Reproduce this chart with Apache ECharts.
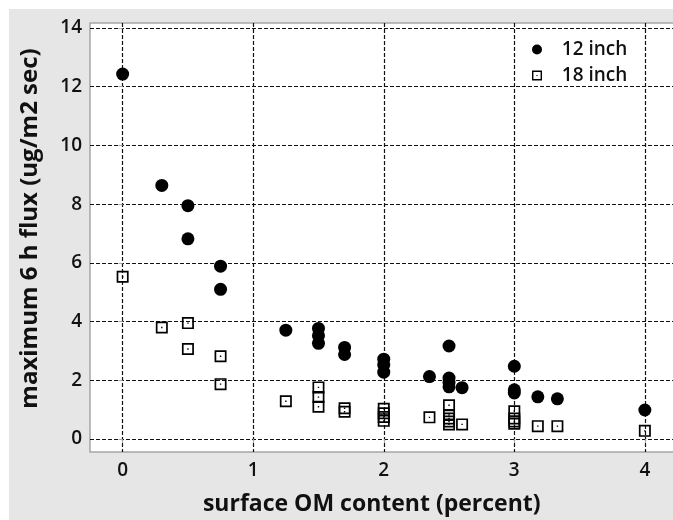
<!DOCTYPE html>
<html lang="en">
<head>
    <meta charset="UTF-8">
    <title>flux vs OM</title>
    <script src="https://cdn.jsdelivr.net/npm/echarts@6.0.0/dist/echarts.min.js"></script>
    <style>
        body { margin: 0; background: #fff; }
        #main { position: absolute; left: 9px; top: 9px; width: 664px; height: 511px; }
    </style>
</head>
<body>
    <div id="main"></div>
    <script>
        // tick labels
        const xTicks = [0, 1, 2, 3, 4]
        const yTicks = [0, 2, 4, 6, 8, 10, 12, 14]

        // 12 inch depth
        const om12 = [0, 0.3, 0.5, 0.5, 0.75, 0.75, 1.25, 1.5, 1.5, 1.5, 1.7, 1.7, 2, 2, 2, 2.35, 2.5, 2.5, 2.5, 2.5, 2.6, 3, 3, 3, 3.18, 3.33, 4]
        const flux12 = [12.43, 8.64, 7.95, 6.82, 5.89, 5.10, 3.71, 3.77, 3.52, 3.26, 3.12, 2.88, 2.72, 2.52, 2.28, 2.13, 3.17, 2.08, 1.93, 1.78, 1.75, 2.48, 1.68, 1.57, 1.44, 1.37, 0.99]

        // 18 inch depth
        const om18 = [0, 0.3, 0.5, 0.5, 0.75, 0.75, 1.25, 1.5, 1.5, 1.5, 1.7, 1.7, 2, 2, 2, 2, 2.35, 2.5, 2.5, 2.5, 2.5, 2.5, 2.6, 3, 3, 3, 3, 3.18, 3.33, 4]
        const flux18 = [5.53, 3.80, 3.95, 3.07, 2.82, 1.87, 1.29, 1.76, 1.43, 1.10, 1.05, 0.93, 1.03, 0.88, 0.75, 0.62, 0.74, 1.15, 0.82, 0.70, 0.60, 0.50, 0.50, 0.95, 0.70, 0.60, 0.52, 0.44, 0.44, 0.28]

        // square outline with a dot in the middle
        const dotSquare = 'path://M0 0H12V12H0Z M1.7 1.7V10.3H10.3V1.7Z M5.3 5.3H6.7V6.7H5.3Z'
        const font = 'Open Sans'
        const grid = { color: '#111', type: [4, 2], width: 1.2 }

        function pairs(xs, ys) {
            return xs.map((x, i) => [x, ys[i]])
        }

        let chart = echarts.init(document.getElementById('main'))
        chart.setOption({
            backgroundColor: '#e6e6e6',
            animation: false,
            grid: {
                left: 81, top: 14, right: -4.5, bottom: 68,
                outerBoundsMode: 'none',
                show: true, backgroundColor: '#fff', borderColor: '#a6a6a6', borderWidth: 1.5
            },
            legend: {
                data: ['12 inch', '18 inch'],
                orient: 'vertical',
                left: 523, top: 31,
                padding: 0, itemGap: 7,
                itemWidth: 10, itemHeight: 10,
                formatter: '   {name}',
                textStyle: { fontFamily: font, fontSize: 19, fontWeight: 600, color: '#111' }
            },
            xAxis: {
                type: 'value',
                min: -0.25, max: 4.25,
                splitNumber: 5,
                name: 'surface OM content (percent)',
                nameLocation: 'middle', nameGap: 41,
                nameTextStyle: { fontFamily: font, fontSize: 23, fontWeight: 'bold', color: '#111', padding: [0, 24, 0, 0] },
                axisLine: { show: false },
                axisTick: { show: true, length: 4, customValues: xTicks, lineStyle: { color: '#a6a6a6' } },
                axisLabel: { customValues: xTicks, margin: 9, fontFamily: font, fontSize: 19, fontWeight: 600, color: '#111' },
                splitLine: { show: true, lineStyle: grid }
            },
            yAxis: {
                type: 'value',
                min: -0.44, max: 14.17,
                splitNumber: 7,
                name: 'maximum 6 h flux (ug/m2 sec)',
                nameLocation: 'middle', nameGap: 48,
                nameTextStyle: { fontFamily: font, fontSize: 24, fontWeight: 'bold', color: '#111', padding: [0, 0, 0, 18] },
                axisLine: { show: false },
                axisTick: { show: true, length: 4, customValues: yTicks, lineStyle: { color: '#a6a6a6' } },
                axisLabel: { customValues: yTicks, margin: 8, fontFamily: font, fontSize: 19, fontWeight: 600, color: '#111' },
                splitLine: { show: true, lineStyle: grid }
            },
            series: [
                {
                    name: '12 inch',
                    type: 'scatter',
                    symbol: 'circle',
                    symbolSize: 13,
                    itemStyle: { color: '#000', opacity: 1 },
                    data: pairs(om12, flux12)
                },
                {
                    name: '18 inch',
                    type: 'scatter',
                    symbol: dotSquare,
                    symbolSize: 12,
                    itemStyle: { color: '#000', opacity: 1 },
                    data: pairs(om18, flux18)
                }
            ]
        })
    </script>
</body>
</html>
